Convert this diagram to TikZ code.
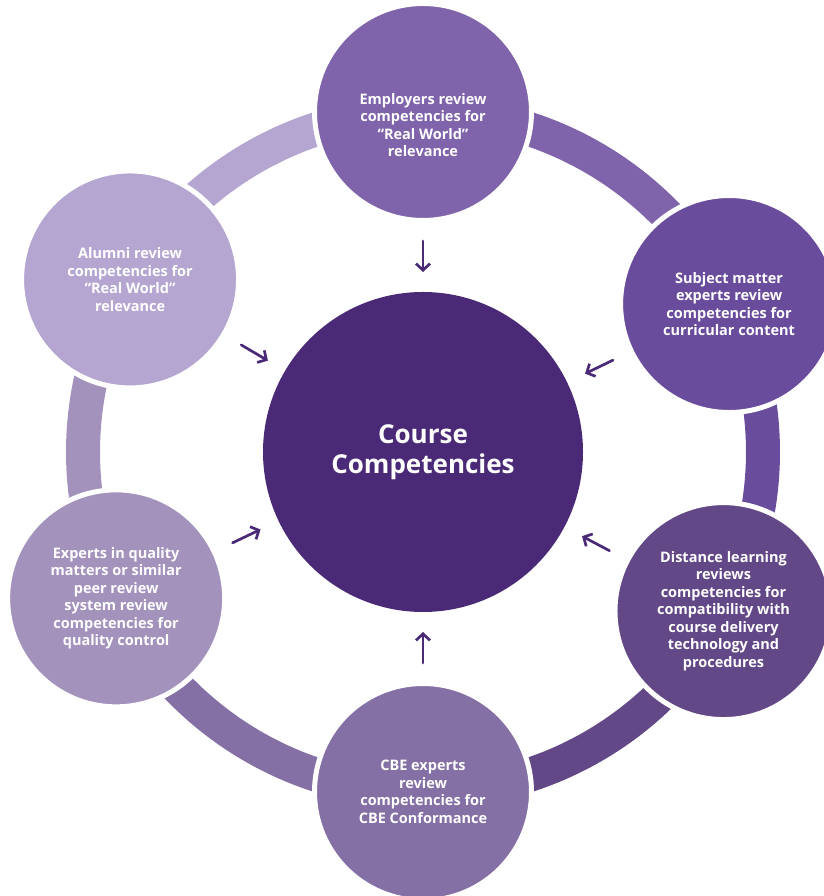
\documentclass[tikz,border=0pt]{standalone}
\usepackage{fontspec}
\setmainfont{Open Sans}
\usetikzlibrary{calc,arrows.meta}
\definecolor{core}{HTML}{4A2A76}
\definecolor{cEmp}{HTML}{7F64AB}
\definecolor{cSme}{HTML}{6A4C9C}
\definecolor{cDl}{HTML}{634888}
\definecolor{cCbe}{HTML}{8470A5}
\definecolor{cQm}{HTML}{A392BC}
\definecolor{cAlu}{HTML}{B4A6D0}
\tikzstyle{bubble} = [circle, draw=white, line width=5pt, minimum size=217pt,
                 inner sep=0pt, text=white, align=center,
                 font=\bfseries\fontsize{14.5}{17.5}\selectfont]
\tikzstyle{pointer} = [-{Straight Barb[length=6.5pt,width=14pt]}, line width=2.7pt,
                 draw=core, line cap=round]

\begin{document}
\begin{tikzpicture}[x=1pt,y=1pt]
\useasboundingbox (0,0) rectangle (823,896);
\coordinate (ctr) at (423,444);

    	%ring segments
\foreach \a/\b/\c in {90/25.8/cEmp, 25.8/-27.9/cSme, -27.9/-90/cDl,
                      -90/-154.5/cCbe, 205.5/149.5/cQm, 149.5/90/cAlu}
	\draw[line width=34pt, draw=\c] ($(ctr)+(\a:340)$) arc (\a:\b:340);

\node [circle, fill=core, minimum size=320pt, inner sep=0pt, text=white,
       align=center, font=\bfseries\fontsize{26}{30}\selectfont]
      (crs) at (ctr) {Course\\Competencies};

\node [bubble, fill=cEmp, label={[text=white, align=center, yshift=-13pt,
       font=\bfseries\fontsize{14.5}{17.5}\selectfont]center:Employers review\\
       competencies for\\``Real World''\\relevance}]
      (emp) at ($(ctr)+(90:340)$) {};
\node [bubble, fill=cSme] (sme) at ($(ctr)+(25.8:340)$)
      {Subject matter\\experts review\\competencies for\\curricular content};
\node [bubble, fill=cDl] (dl) at ($(ctr)+(-27.9:340)$)
      {Distance learning\\reviews\\competencies for\\compatibility with\\course delivery\\technology and\\procedures};
\node [bubble, fill=cCbe] (cbe) at ($(ctr)+(-90:340)$)
      {CBE experts\\review\\competencies for\\CBE Conformance};
\node [bubble, fill=cQm] (qm) at ($(ctr)+(205.5:340)$)
      {Experts in quality\\matters or similar\\peer review\\system review\\competencies for\\quality control};
\node [bubble, fill=cAlu] (alu) at ($(ctr)+(149.5:340)$)
      {Alumni review\\competencies for\\``Real World''\\relevance};

    	%arrows
\foreach \n in {emp, sme, dl, cbe, qm, alu}
	\draw[pointer] ($(ctr)!211pt!(\n)$) -- ($(ctr)!180pt!(\n)$);

\end{tikzpicture}
\end{document}
